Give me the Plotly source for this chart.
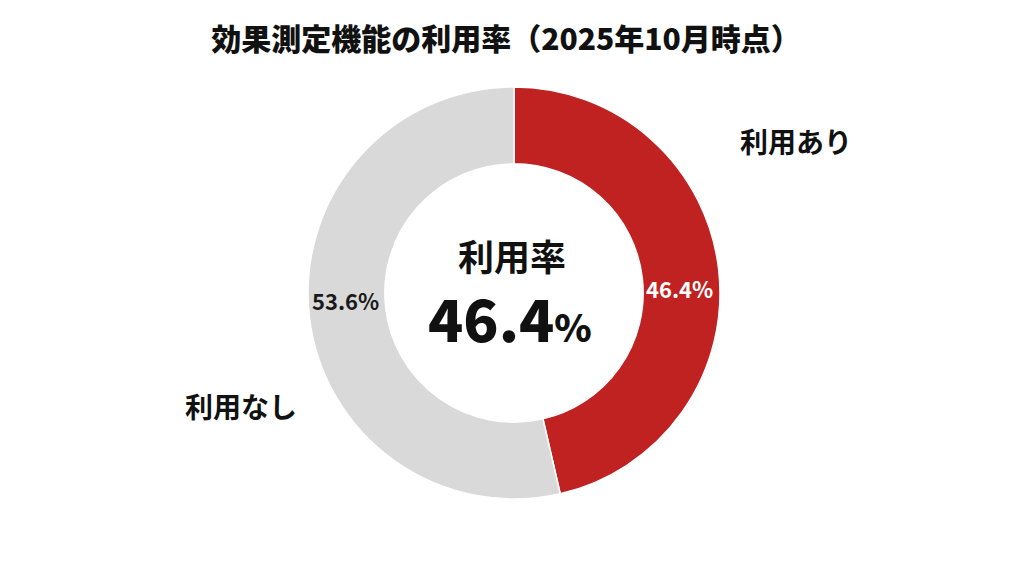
import plotly.graph_objects as go

labels = ["利用あり", "利用なし"]
values = [46.4, 53.6]
colors = ["#BF2220", "#D9D9D9"]
title = "効果測定機能の利用率（2025年10月時点）"
center_label = "利用率"

FONT = "Noto Sans CJK JP"
W, H = 1024, 565
OFF = 8  # page body margin offset

def px(x):
    return (x - OFF) / W

def py(y):
    return 1 - (y - OFF) / H

cx, cy, R = 514, 293, 206

fig = go.Figure()
fig.add_trace(go.Pie(
    labels=labels, values=values, hole=0.627, sort=False,
    direction="clockwise", rotation=0,
    marker=dict(colors=colors, line=dict(color="white", width=1.5)),
    textinfo="none", hoverinfo="label+percent", showlegend=False,
    domain=dict(x=[px(cx - R), px(cx + R)], y=[py(cy + R), py(cy - R)]),
))

def ann(x, y, text, size, color="#111111", weight=700):
    fig.add_annotation(x=px(x), y=py(y), xref="paper", yref="paper",
                       text=text, showarrow=False, xanchor="center", yanchor="middle",
                       font=dict(family=FONT, size=size, color=color, weight=weight))

ann(679, 288, f"{values[0]:.1f}%", 22, "white")
ann(345, 300, f"{values[1]:.1f}%", 22, "#1a1a1a")
ann(796, 141, labels[0], 28)
ann(241, 406, labels[1], 28)
ann(512, 255, center_label, 36)
ann(510, 317, f"{values[0]:.1f}<span style='font-size:38px'>%</span>", 58, weight=900)

fig.update_layout(
    width=W, height=H,
    margin=dict(l=0, r=0, t=0, b=0),
    paper_bgcolor="white", plot_bgcolor="white",
    title=dict(text=title, x=px(506), xanchor="center",
               y=py(39), yanchor="middle",
               font=dict(family=FONT, size=30, color="#111111", weight=900)),
)

fig.write_html("out.html")
